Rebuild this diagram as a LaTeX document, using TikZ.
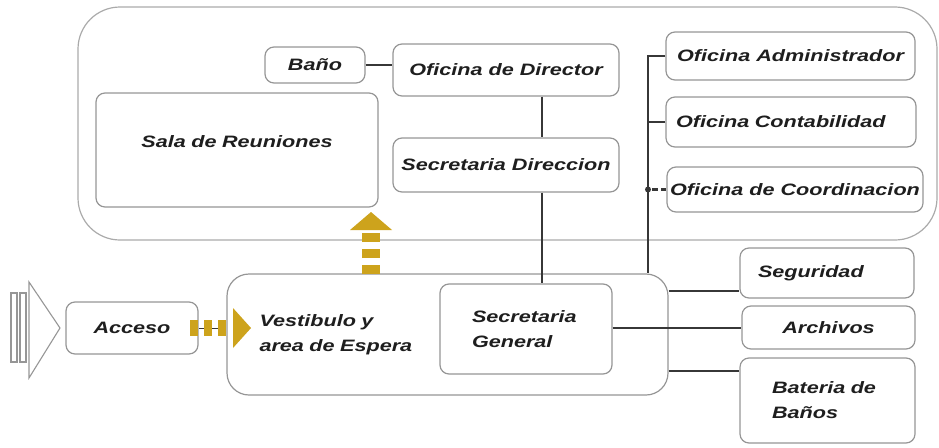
\documentclass[tikz,border=0pt]{standalone}
\usepackage{fontspec}
\newfontfamily\lblfont{Liberation Sans Bold Italic}[FakeStretch=1.31]
\definecolor{boxgray}{RGB}{150,150,150}
\definecolor{zonegray}{RGB}{170,170,170}
\definecolor{conncol}{RGB}{55,55,55}
\definecolor{goldcol}{RGB}{205,163,28}
\definecolor{txtcol}{RGB}{30,30,30}
\tikzset{
  room/.style={draw=boxgray, line width=1.2pt, rounded corners=9pt, fill=white,
    font=\lblfont\fontsize{16.5}{25}\selectfont, text=txtcol, inner sep=0pt, align=center},
  zone/.style={draw=zonegray, line width=1.2pt, rounded corners=42pt},
  conn/.style={draw=conncol, line width=1.9pt},
  goldarrow/.style={fill=goldcol, draw=none},
  golddash/.style={draw=goldcol},
  entry/.style={draw=boxgray, line width=1.1pt},
}
\begin{document}
\begin{tikzpicture}[x=1pt,y=-1pt]
\useasboundingbox (0,0) rectangle (939,447);
% upper zone
\node[zone, minimum width=859pt, minimum height=233pt] (zone) at (507.5,123.5) {};
% rooms
\node[room, minimum width=132pt, minimum height=52pt] (acc) at (132,328) {Acceso};
\node[room, rounded corners=22pt, minimum width=441pt, minimum height=121pt,
      text width=376pt, inner xsep=32.5pt, align=left] (vest) at (447.5,334.5)
      {Vestibulo y\\area de Espera};
\node[room, minimum width=172pt, minimum height=90pt,
      text width=108pt, inner xsep=32pt, align=left] (sg) at (526,329)
      {Secretaria\\General};
\node[room, minimum width=100pt, minimum height=36pt] (bano) at (315,65) {Baño};
\node[room, minimum width=226pt, minimum height=52pt] (dir) at (506,70) {Oficina de Director};
\node[room, minimum width=282pt, minimum height=114pt,
      text width=250pt, inner xsep=16pt, align=center] (sala) at (237,150) {Sala de Reuniones\\[-8pt]\mbox{}};
\node[room, minimum width=226pt, minimum height=54pt] (sdir) at (506,165) {Secretaria Direccion};
\node[room, minimum width=249pt, minimum height=48pt] (adm) at (790.5,56) {Oficina Administrador};
\node[room, minimum width=250pt, minimum height=50pt,
      text width=230pt, inner xsep=10pt, align=left] (con) at (791,122) {Oficina Contabilidad};
\node[room, minimum width=256pt, minimum height=45pt] (coo) at (795,189.5) {Oficina de Coordinacion};
\node[room, minimum width=174pt, minimum height=50pt,
      text width=138pt, inner xsep=18pt, align=left] (seg) at (827,273) {Seguridad};
\node[room, minimum width=173pt, minimum height=43pt] (arc) at (828.5,327.5) {Archivos};
\node[room, minimum width=175pt, minimum height=85pt,
      text width=111pt, inner xsep=32pt, align=left] (bat) at (827.5,400.5) {Bateria de\\Baños};
% connectors
\draw[conn] (bano.east) -- (bano.east -| dir.west);
\draw[conn] ([xshift=36pt]dir.south) -- ([xshift=36pt]sdir.north);
\draw[conn] ([xshift=36pt]sdir.south) -- ([xshift=16pt]sg.north);
\coordinate (bus) at (648,56);
\draw[conn] (adm.west) -- (adm.west -| bus) -- (vest.north -| bus);
\draw[conn] (con.west) -- (con.west -| bus);
\draw[conn, line width=2.4pt, dash pattern=on 6pt off 3pt] ([xshift=4pt]coo.west -| bus) -- (coo.west);
\fill[conncol] (coo.west -| bus) circle (3pt);
\draw[conn] (vest.east |- 0,291) -- (seg.west |- 0,291);
\draw[conn] (sg.east |- 0,328) -- (arc.west |- 0,328);
\draw[conn] (vest.east |- 0,371) -- (bat.west |- 0,371);
% entrance symbol
\draw[entry] (11,293) rectangle (17,362);
\draw[entry] (20,293) rectangle (26,362);
\draw[entry] (29,282) -- (60,328) -- (29,378) -- cycle;
% gold arrow into the lobby
\draw[draw=conncol, line width=1pt] (acc.east) -- (acc.east -| vest.west);
\draw[golddash, line width=16pt, dash pattern=on 8pt off 6pt] (190,328) -- (230,328);
\fill[goldarrow] (233,308) -- (251,328) -- (233,348) -- cycle;
% gold arrow up
\draw[golddash, line width=18pt, dash pattern=on 9pt off 7pt] (371,274) -- (371,233);
\fill[goldarrow] (350,230) -- (371,212) -- (392,230) -- cycle;
\end{tikzpicture}
\end{document}
